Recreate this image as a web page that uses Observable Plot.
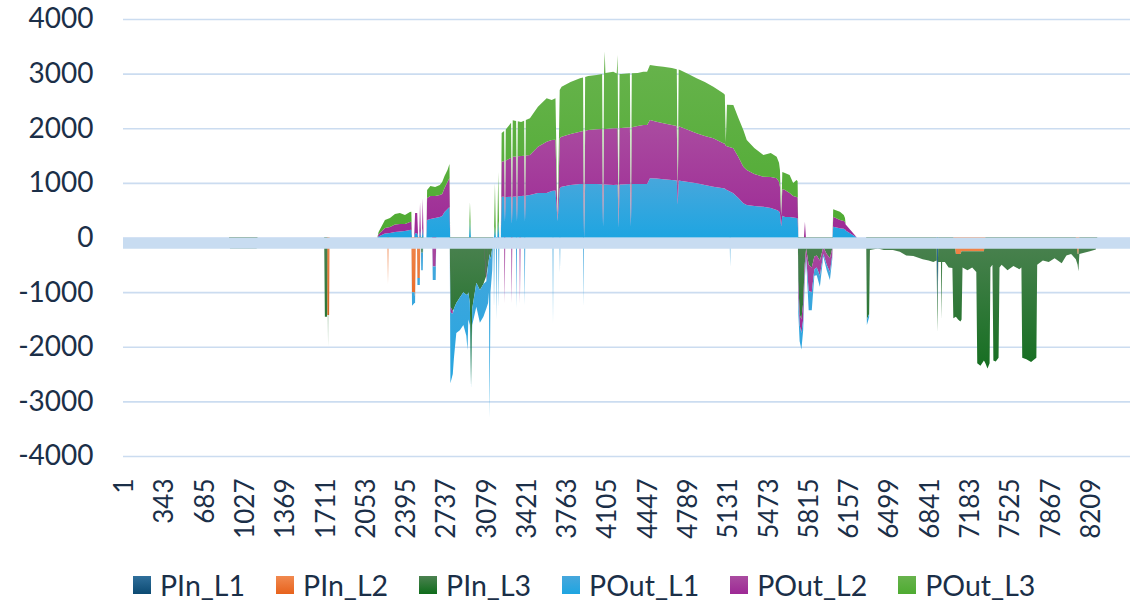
<!DOCTYPE html>
<html>
<head>
<meta charset="utf-8">
<script src="https://cdn.jsdelivr.net/npm/d3@7"></script>
<script src="https://cdn.jsdelivr.net/npm/@observablehq/plot@0.6"></script>
<style>
  html, body { margin: 0; padding: 0; background: #ffffff; }
  #chart { width: 1142px; }
  #legend { display: flex; align-items: center; gap: 31px; padding-left: 133px; margin-top: 10px; height: 30px;
    font-family: Lato, "Open Sans", sans-serif; font-size: 28.5px; color: #1b2f48; }
  #legend .item { display: flex; align-items: center; gap: 9px; }
  #legend .sw { width: 18px; height: 18px; display: inline-block; }
</style>
</head>
<body>
<div id="chart"></div>
<div id="legend"></div>
<script>
// ---- tick labels ----
const xTicks = [1,343,685,1027,1369,1711,2053,2395,2737,3079,3421,3763,4105,4447,4789,5131,5473,5815,6157,6499,6841,7183,7525,7867,8209];
const yTicks = [-4000,-3000,-2000,-1000,0,1000,2000,3000,4000];

// ---- series ----
const seriesNames = ["PIn_L1","PIn_L2","PIn_L3","POut_L1","POut_L2","POut_L3"];
const seriesTop = ["#2f6f9b","#f1894f","#4c8251","#47a7dc","#aa4ca0","#68b34d"];
const seriesBottom = ["#0c4a72","#e7621c","#0f6c1b","#1ea5e1","#9d2995","#4eab31"];

// ---- positive (export) samples: sample index and band values ----
const posT = [
2150,2160,2214,2257,2299,2341,2384,2426,2438,2444,
2462,2470,2488,2496,2505,2512,2520,2528,2535,2542,
2566,2572,2600,2640,2680,2700,2720,2745,2762,2768,
2928,2936,2944,3140,3148,3156,3168,3176,3184,3198,
3205,3226,3233,3240,3250,3285,3292,3299,3328,3335,
3342,3370,3396,3403,3410,3445,3513,3587,3630,3662,3680,
3698,3714,3790,3870,3896,3905,3914,3940,4011,4058,
4066,4074,4080,4086,4153,4182,4190,4198,4206,4220,
4294,4302,4310,4360,4407,4440,4464,4520,4578,4650,
4692,4700,4708,4719,4790,4860,4930,5002,5087,5100,
5108,5118,5172,5215,5257,5286,5350,5427,5490,5540,
5560,5568,5578,5588,5610,5650,5680,5709,5718,5724,
5772,5780,5788,6014,6020,6077,6110,6120,6126,6170,
6221];
const posOut1 = [
0,20,73,82,100,110,119,137,140,0,
0,80,80,0,0,120,0,0,170,0,
0,320,339,357,375,394,467,522,558,0,
0,300,0,0,200,0,0,300,0,0,
747,745,300,743,742,745,250,747,750,300,
755,760,765,300,770,778,815,815,851,860,300,
900,930,961,980,980,0,980,980,980,975,
200,970,970,970,961,965,965,180,970,970,
980,200,980,980,980,980,1084,1080,1066,1053,
1045,600,1043,1040,1016,992,961,930,901,895,
880,870,809,723,626,595,577,564,540,504,
480,443,200,400,375,375,366,357,350,0,
0,0,0,0,198,168,160,150,130,70,
0];
const posOut2 = [
0,40,101,110,138,137,128,147,150,0,
0,370,370,0,0,520,0,0,550,0,
0,403,421,403,403,402,439,494,531,0,
0,0,0,0,0,0,0,0,0,0,
640,655,0,665,677,715,0,730,732,0,
732,732,732,0,733,733,848,939,934,930,0,
920,916,934,957,970,0,975,988,1001,1010,
0,1017,1017,1017,1038,1037,1037,0,1035,1035,
1038,0,1040,1062,1080,1080,1067,1040,1025,1007,
995,300,992,989,952,916,897,886,824,820,
800,800,824,751,670,641,586,549,568,580,
540,487,200,490,495,440,394,385,380,0,
0,290,0,0,182,152,140,130,110,60,
0];
const posOut3 = [
0,40,146,165,192,202,165,183,180,0,
0,0,0,0,0,0,0,0,0,0,
0,147,183,165,183,220,220,220,257,0,
0,350,0,0,800,0,0,900,0,0,
525,550,0,570,586,640,0,670,650,0,
640,623,640,0,650,672,732,795,733,760,0,
880,915,952,978,980,0,985,989,994,1010,
0,1025,1420,1025,1037,1000,1340,0,990,989,
988,0,985,970,976,976,1007,1020,1036,1044,
1040,0,1040,1038,1026,1007,989,945,915,900,
60,760,793,714,672,549,476,398,439,395,
350,306,0,311,311,329,238,311,300,0,
0,0,0,0,136,152,110,77,0,0,
0];

// ---- negative (import) samples ----
const negT = [
890,898,1125,1132,1698,1704,1722,1725,1731,1735,
1740,1744,2235,2240,2245,2438,2444,2465,2470,2477,
2485,2490,2510,2515,2518,2522,2535,2540,2615,2620,
2645,2650,2764,2770,2790,2800,2820,2850,2880,2905,
2915,2922,2935,2945,2955,2990,3020,3050,3075,3090,
3097,3103,3110,3125,3133,3136,3140,3146,3156,3160,
3166,3176,3180,3186,3226,3230,3236,3286,3290,3296,
3326,3330,3336,3356,3360,3366,3396,3400,3406,3637,
3641,3645,3696,3700,3704,3896,3900,3904,5141,5145,
5149,5720,5724,5735,5750,5765,5778,5790,5812,5838,
5860,5880,5907,5936,5965,5992,6012,6018,6300,6306,
6325,6332,6400,6450,6527,6586,6640,6700,6731,6780,
6830,6870,6898,6905,6912,6935,6940,6945,6968,7000,
7032,7040,7062,7080,7100,7110,7118,7160,7200,7235,
7243,7270,7300,7312,7330,7348,7355,7372,7380,7400,
7424,7432,7450,7500,7550,7600,7618,7625,7660,7700,
7745,7752,7800,7850,7900,7960,8000,8040,8080,8095,
8102,8110,8150,8200,8250,8262];
const negIn1 = [
0,0,0,0,0,0,0,0,0,0,
0,0,0,0,0,0,0,0,0,0,
0,0,0,0,0,0,0,0,0,0,
0,0,0,0,0,0,0,0,0,0,
0,0,0,0,0,0,0,0,0,0,
0,0,0,0,0,0,0,0,0,0,
0,0,0,0,0,0,0,0,0,0,
0,0,0,0,0,0,0,0,0,0,
0,0,0,0,0,0,0,0,0,0,
0,0,0,0,0,0,0,0,0,0,
0,0,0,0,0,0,0,0,0,0,
0,0,0,0,0,0,0,0,0,0,
0,0,0,-1300,0,0,0,0,0,0,
0,0,0,0,0,0,0,0,0,0,
0,0,0,0,0,0,0,0,0,0,
0,0,0,0,0,0,0,0,0,0,
0,0,0,0,0,0,0,0,0,0,
0,0,0,0,0,0];
const negIn2 = [
0,0,0,0,0,0,0,-1420,-1420,-1420,
-1420,0,0,-850,0,0,-1000,-1000,-1100,0,
0,-740,-740,0,0,0,0,0,0,0,
0,0,0,0,0,0,0,0,0,0,
0,0,0,0,0,0,0,0,0,0,
0,0,0,0,0,0,0,0,0,0,
0,0,0,0,0,0,0,0,0,0,
0,0,0,0,0,0,0,0,0,0,
0,0,0,0,0,0,0,0,0,0,
0,0,0,0,0,0,0,0,0,0,
0,0,0,0,0,0,0,0,0,0,
0,0,0,0,0,0,0,0,0,0,
0,0,0,0,0,0,0,0,0,0,
0,0,-300,-300,-300,-250,-250,-250,-250,-250,
-250,-250,-250,0,0,0,0,0,0,0,
0,0,0,0,0,0,0,0,0,0,
0,0,0,0,0,0,0,0,0,-300,
-300,0,0,0,0,0];
const negIn3 = [
0,-200,-200,0,0,-1450,-1450,0,-580,0,
0,0,0,0,0,0,0,0,0,0,
0,0,0,0,0,-280,-280,0,0,0,
0,0,0,-1270,-1350,-1300,-1200,-1100,-1000,-1050,
-1050,-1000,-1200,-2700,-1300,-830,-960,-850,-700,-500,
-400,-300,-400,-200,0,0,0,0,0,0,
0,0,0,0,0,0,0,0,0,0,
0,0,0,0,0,0,0,0,0,0,
0,0,0,0,0,0,0,0,0,0,
0,0,-800,-1400,-1500,-1200,-500,-200,-500,-550,
-350,-330,-420,-180,-300,-380,-200,0,0,-1500,
-1400,-230,-200,-230,-230,-260,-330,-340,-360,-400,
-420,-450,-420,-420,-450,-450,-1500,-450,-450,-550,
-560,-1480,-1150,-1200,-1240,-1250,-300,-350,-300,-380,
-2050,-2100,-2000,-2300,-2400,-2300,-550,-500,-2250,-2270,
-2200,-550,-500,-600,-520,-580,-550,-2200,-2230,-2280,
-2200,-500,-420,-450,-380,-470,-330,-300,-400,-200,
-320,-300,-280,-250,-220,0];
const negOut2 = [
0,0,0,0,0,0,0,0,0,0,
0,0,0,0,0,0,0,0,0,0,
0,0,0,0,0,0,0,0,0,-530,
-530,0,0,-100,-50,0,0,0,0,0,
0,0,0,0,0,0,0,0,-100,0,
0,0,0,0,0,0,0,0,0,0,
0,0,-100,0,0,-1200,0,0,-1200,0,
0,0,0,0,-1200,0,0,0,0,0,
0,0,0,0,0,0,0,0,0,0,
0,0,-300,-200,-250,-300,-200,-150,-480,-450,
-230,-220,-280,-120,-200,-250,-130,0,0,0,
0,0,0,0,0,0,0,0,0,0,
0,0,0,0,0,0,0,0,0,0,
0,0,0,0,0,0,0,0,0,0,
0,0,0,0,0,0,0,0,0,0,
0,0,0,0,0,0,0,0,0,0,
0,0,0,0,0,0,0,0,0,0,
0,0,0,0,0,0];
const negOut1 = [
0,0,0,0,0,0,0,0,0,0,
0,0,0,0,0,0,-250,-200,-100,0,
0,-130,-130,0,0,-320,-320,0,0,-250,
-250,0,0,-1300,-1100,-900,-550,-600,-600,-750,
-1010,-500,-400,-50,-300,-440,-600,-600,-500,-700,
-600,-3000,-600,-400,0,0,-1300,0,0,-1500,
0,0,-1200,0,0,0,0,0,0,0,
0,-1300,0,0,0,0,0,-1250,0,0,
-1570,0,0,-650,0,0,-1250,0,0,-530,
0,0,-300,-300,-300,-200,-100,-50,-350,-330,
-120,-140,-200,-50,-100,-150,-70,0,0,-100,
-60,0,0,0,0,0,0,0,0,0,
0,0,0,0,0,0,0,0,0,0,
0,0,0,0,0,0,0,0,0,0,
0,0,0,0,0,0,0,0,0,0,
0,0,0,0,0,0,0,0,0,0,
0,0,0,0,0,0,0,0,0,0,
0,0,0,0,0,0];

// ---- build tidy tables ----
const toRows = (ts, pairs) => pairs.flatMap(([series, vals]) => ts.map((t, i) => ({t, v: vals[i], series})));
const posData = toRows(posT, [["POut_L1", posOut1], ["POut_L2", posOut2], ["POut_L3", posOut3]]);
const negData = toRows(negT, [["PIn_L1", negIn1], ["PIn_L2", negIn2], ["PIn_L3", negIn3], ["POut_L2", negOut2], ["POut_L1", negOut1]]);

const gradIds = seriesNames.map((_, i) => `grad-s${i}`);

const chart = Plot.plot({
  width: 1142,
  height: 560,
  marginTop: 19,
  marginBottom: 104,
  marginLeft: 123,
  marginRight: 12,
  style: {fontFamily: "Lato, 'Open Sans', sans-serif", color: "#1b2f48", background: "#ffffff"},
  x: {type: "linear", domain: [-10, 8540]},
  y: {domain: [-4000, 4000]},
  color: {domain: seriesNames, range: gradIds.map(id => `url(#${id})`)},
  marks: [
    Plot.ruleY(yTicks, {stroke: "#cbdcf0", strokeWidth: 1.6}),
    Plot.areaY(posData, {x: "t", y: "v", z: "series", fill: "series"}),
    Plot.areaY(negData, {x: "t", y: "v", z: "series", fill: "series"}),
    Plot.ruleY([0], {stroke: "#c8dcf1", strokeWidth: 11, dy: 5.3}),
    Plot.axisY({ticks: yTicks, tickSize: 0, tickPadding: 30, fontSize: 28, tickFormat: d => String(d), label: null}),
    Plot.axisX({ticks: xTicks, tickSize: 0, tickPadding: 22, tickRotate: -90, fontSize: 26, tickFormat: d => String(d), label: null})
  ]
});

// vertical gradient fills (like the original's shaded areas)
const ns = "http://www.w3.org/2000/svg";
const defs = document.createElementNS(ns, "defs");
seriesNames.forEach((s, i) => {
  const g = document.createElementNS(ns, "linearGradient");
  g.setAttribute("id", gradIds[i]);
  g.setAttribute("x1", "0"); g.setAttribute("y1", "0");
  g.setAttribute("x2", "0"); g.setAttribute("y2", "1");
  const a = document.createElementNS(ns, "stop");
  a.setAttribute("offset", "0"); a.setAttribute("stop-color", seriesTop[i]);
  const b = document.createElementNS(ns, "stop");
  b.setAttribute("offset", "1"); b.setAttribute("stop-color", seriesBottom[i]);
  g.appendChild(a); g.appendChild(b);
  defs.appendChild(g);
});
chart.insertBefore(defs, chart.firstChild);
document.getElementById("chart").appendChild(chart);

// legend
const legend = document.getElementById("legend");
seriesNames.forEach((s, i) => {
  const item = document.createElement("div");
  item.className = "item";
  const sw = document.createElement("span");
  sw.className = "sw";
  sw.style.background = `linear-gradient(${seriesTop[i]}, ${seriesBottom[i]})`;
  const label = document.createElement("span");
  label.textContent = s;
  item.appendChild(sw); item.appendChild(label);
  legend.appendChild(item);
});
</script>
</body>
</html>
